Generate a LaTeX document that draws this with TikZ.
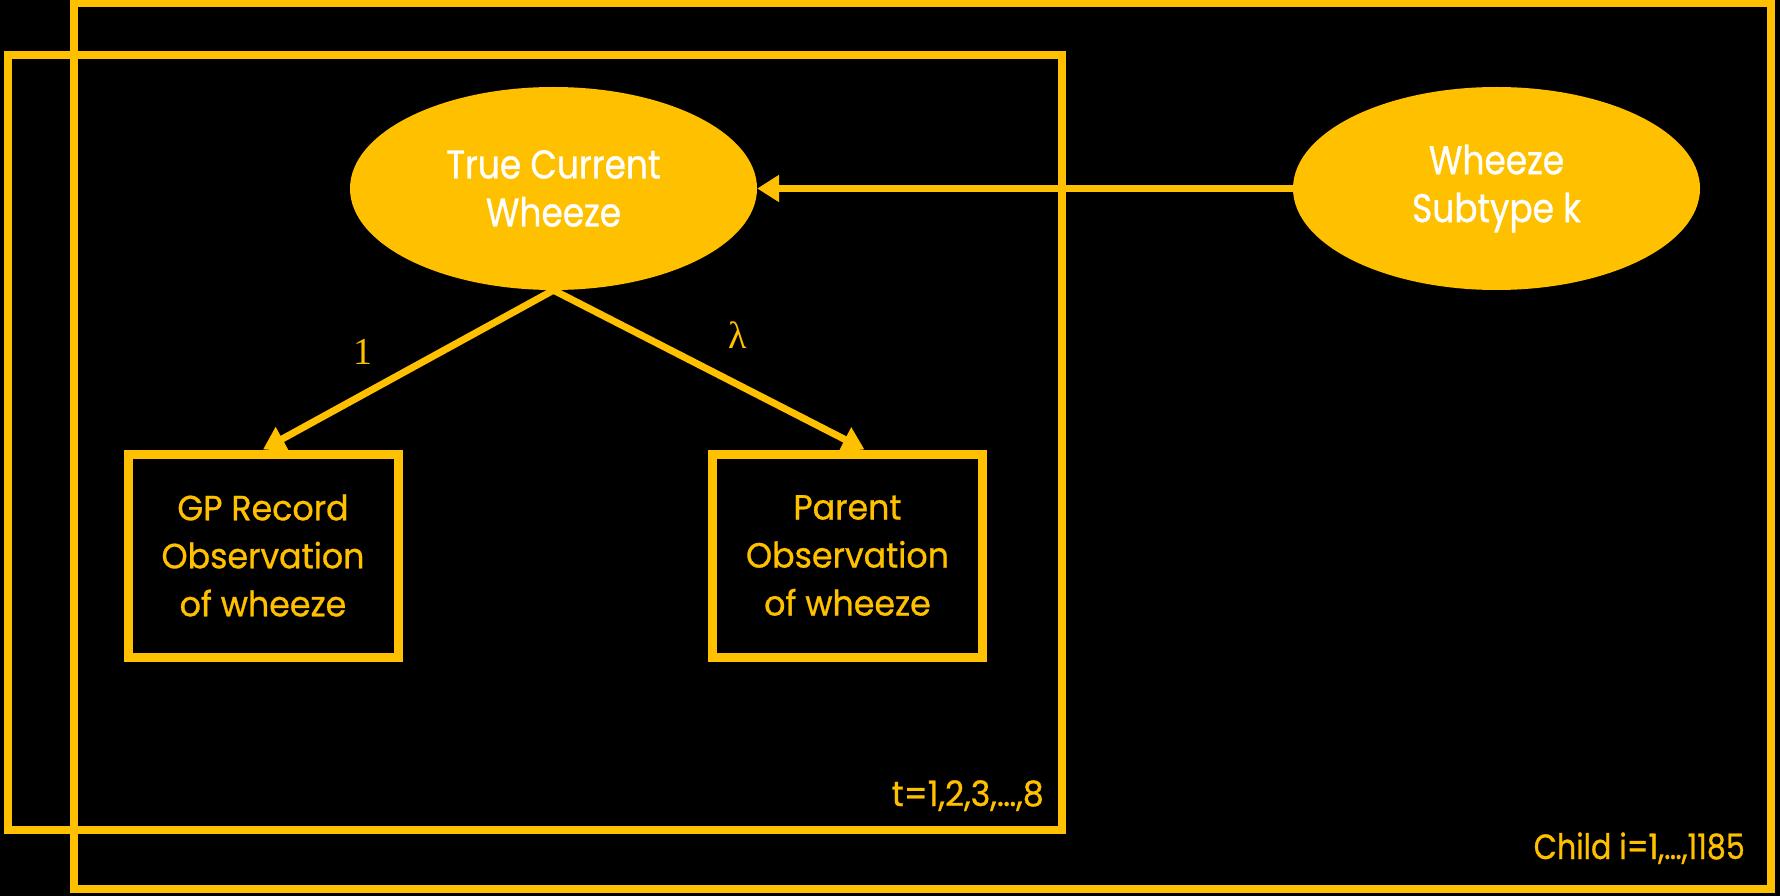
\documentclass[tikz,border=0pt]{standalone}
\usepackage{fontspec}
\setmainfont{Poppins}[FakeStretch=0.95,FakeBold=0.8]
\newfontfamily\nodefont{Poppins}[FakeStretch=0.86,FakeBold=0.8]
\newfontfamily\weightfont{Liberation Serif}
\usetikzlibrary{arrows.meta,shapes.geometric}
\definecolor{gold}{HTML}{FFC000}
\begin{document}
\begin{tikzpicture}[x=1pt,y=-1pt,
  frame/.style={draw=gold,line width=8pt},
  latent/.style={ellipse,fill=gold,draw=none,inner sep=0pt,
    minimum width=407pt,minimum height=203pt,text=white,align=center,
    font=\nodefont\fontsize{40}{48}\selectfont},
  observed/.style={rectangle,draw=gold,line width=9pt,fill=black,inner sep=0pt,
    minimum width=270pt,minimum height=203pt,text=gold,align=center,
    font=\fontsize{35}{48}\selectfont},
  link/.style={draw=gold,line width=7pt,-{Triangle[length=22pt,width=26pt]}},
  weight/.style={text=gold,font=\weightfont\fontsize{38}{44}\selectfont,inner sep=0pt},
  platelabel/.style={text=gold,font=\fontsize{35}{42}\selectfont,inner sep=0pt,anchor=base east}]
  % canvas
  \fill[black] (0,0) rectangle (1780,896);
  \useasboundingbox (0,0) rectangle (1780,896);

  % plates
  \draw[frame] (73.5,3.5) rectangle (1771,889);
  \draw[frame] (7.5,55) rectangle (1062,830);

  % variables
  \node[latent] (tcw) at (553.5,188.5) {True Current\\Wheeze};
  \node[latent] (wst) at (1496.5,188.5) {Wheeze\\Subtype k};
  \node[observed] (gp) at (263,555.5) {GP Record\\Observation\\of wheeze};
  \node[observed] (pob) at (847.5,555.5) {Parent\\Observation\\of wheeze};

  % dependencies
  \draw[link] (wst.west) -- (tcw.east);
  \draw[link] (tcw.south) -- (gp.north);
  \draw[link] (tcw.south) -- ([xshift=17pt]pob.north);

  % loadings
  \node[weight] (w1) at (363,352) {1};
  \node[weight] (wl) at (738,335) {λ};

  % plate indices
  \node[platelabel] (tidx) at (1044,806) {t=1,2,3,…,8};
  \node[platelabel,font=\nodefont\fontsize{35}{42}\selectfont] (iidx) at (1745,859) {Child i=1,…,1185};
\end{tikzpicture}
\end{document}
